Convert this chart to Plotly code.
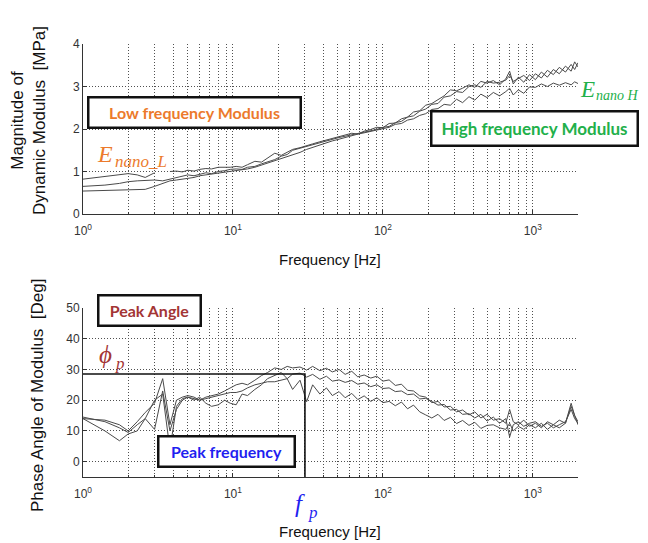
import math
import plotly.graph_objects as go

# ---------------- data ----------------
freq = [1, 1.4, 1.75, 2, 2.3, 2.6, 3, 3.4, 3.8, 4.2,
        4.6, 5, 5.5, 6, 6.6, 7.2, 8, 8.8, 9.6, 10.5,
        11.5, 12.5, 14, 15.5, 17, 19, 21, 23, 25, 28,
        31, 34, 38, 42, 46, 51, 56, 62, 68, 75,
        83, 91, 100, 110, 121, 133, 146, 160, 176, 193,
        212, 233, 256, 282, 310, 340, 375, 410, 450, 495,
        545, 600, 660, 700, 740, 800, 870, 950, 1040, 1140,
        1250, 1370, 1500, 1650, 1800, 1900, 2000]

mod_1 = [0.82, 0.88, 0.93, 0.95, 0.92, 0.86, 0.97, None, 1.00, 1.01,
         0.99, 1.03, 1.01, 1.05, 1.07, 1.06, 1.10, 1.10, 1.10, 1.12,
         1.10, 1.16, 1.24, 1.22, 1.32, 1.43, 1.38, 1.46, 1.52, 1.56,
         1.60, 1.65, 1.70, 1.74, 1.79, 1.82, 1.86, 1.90, 1.88, 1.95,
         1.99, 2.04, 2.03, 2.13, 2.14, 2.24, 2.28, 2.40, 2.43, 2.56,
         2.60, 2.70, 2.78, 2.92, 2.90, 2.96, 3.04, 2.98, 3.12, 3.08,
         3.14, 3.04, 3.18, 3.36, 3.06, 3.22, 3.10, 3.28, 3.16, 3.34,
         3.22, 3.40, 3.30, 3.48, 3.36, 3.58, 3.46]
mod_2 = [0.65, 0.68, 0.72, 0.76, 0.78, 0.79, 0.80, 0.78, 0.82, 0.86,
         0.90, 0.92, 0.90, 0.94, 0.97, 0.95, 1.00, 1.02, 1.05, 1.06,
         1.05, 1.10, 1.12, 1.18, 1.22, 1.28, 1.36, 1.40, 1.50, 1.55,
         1.58, 1.62, 1.68, 1.72, 1.76, 1.80, 1.83, 1.86, 1.90, 1.92,
         1.96, 1.99, 2.04, 2.06, 2.15, 2.18, 2.28, 2.31, 2.42, 2.47,
         2.58, 2.60, 2.75, 2.78, 2.88, 2.86, 3.00, 3.04, 2.98, 3.12,
         3.08, 3.10, 3.15, 3.26, 3.12, 3.18, 3.26, 3.14, 3.30, 3.20,
         3.38, 3.28, 3.45, 3.34, 3.52, 3.40, 3.56]
mod_3 = [0.54, 0.56, 0.57, 0.58, 0.59, 0.58, 0.65, 0.72, 0.78, 0.80,
         0.82, 0.84, 0.86, 0.90, 0.92, 0.94, 0.96, 0.98, 1.00, 1.02,
         1.04, 1.06, 1.10, 1.15, 1.20, 1.25, 1.30, 1.34, 1.38, 1.45,
         1.52, 1.57, 1.62, 1.68, 1.72, 1.76, 1.80, 1.85, 1.88, 1.91,
         1.94, 1.97, 2.01, 2.04, 2.11, 2.13, 2.21, 2.24, 2.32, 2.36,
         2.46, 2.48, 2.58, 2.56, 2.70, 2.62, 2.76, 2.68, 2.82, 2.74,
         2.86, 2.78, 2.88, 2.96, 2.80, 2.92, 2.84, 2.99, 2.98, 3.06,
         3.00, 3.08, 3.03, 3.09, 3.04, 3.11, 3.07]

phase_1 = [14, 13.5, 12, 10, 13, 16, 19, 27, 12, 20,
           21, 21.5, 21, 20, 21, 21.5, 22, 23, 24, 25,
           25.5, 25, 26.5, 28, 29, 30.5, 30, 31, 30.5, 30.8,
           29.8, 31, 29.6, 30.4, 29.2, 30, 28.4, 29.4, 27.6, 28.2,
           27.2, 27.8, 26.2, 26.6, 24.8, 25.2, 23.2, 23, 21.4, 21,
           19.2, 19.6, 17.8, 18, 16.2, 16.8, 15.2, 16.2, 14.2, 15.4,
           13.5, 14, 12.5, 17, 13, 12, 13.5, 11.5, 12.5, 11,
           13, 12, 13.5, 12.5, 19, 15, 13]
phase_2 = [14.5, 13, 11, 9.5, 12, 14, 10.5, 23, 10, 17,
           20, 21, 20.5, 20, 20.5, 21, 21.5, 22, 22.5, 22.5,
           23, 24, 25, 25.5, 26, 26, 26.5, 27, 28.5, 28.8,
           27.5, 28.4, 26.8, 27.8, 26.2, 26.6, 25.8, 26.4, 25.2, 25.6,
           24.4, 25, 23.8, 24, 22.8, 23, 21.8, 22, 20.4, 20.6,
           19.6, 18.4, 18.6, 16.8, 17, 15.4, 15.6, 14.2, 15.4, 13.2,
           14.5, 12.5, 14, 8, 12, 13, 11.5, 12.5, 13, 11.5,
           12.5, 11, 12, 13, 17, 14, 12.5]
phase_3 = [14, 10, 6.8, 9, 10, 14, 20, 22, 4, 18,
           20.5, 21, 20, 21, 19, 18, 18.5, 20, 19, 18.5,
           22, 21.5, 23.5, 25, 27, 28, 29, 27, 23.5, 26.5,
           19.5, 25, 22, 24, 21.5, 22.8, 20.8, 22.2, 20.2, 21.4,
           19.6, 20.8, 19.2, 19.6, 18.2, 19.4, 17.2, 18.4, 16.2, 15.2,
           14.2, 15.4, 13.4, 14.4, 12.4, 13.4, 11.8, 12.8, 10.8, 11.8,
           12, 11, 10.5, 12.5, 10, 11.5, 10.5, 12, 11, 12.5,
           10.5, 12, 11, 12.5, 18, 15, 12]

peak_freq = 30.2     # f_p [Hz]
peak_angle = 28.5    # phi_p [deg]
freq_min, freq_max = 1, 2000

major_ticks = [1, 10, 100, 1000]
major_text = ["10<sup>0</sup>", "10<sup>1</sup>", "10<sup>2</sup>", "10<sup>3</sup>"]
minor_ticks = [m * 10 ** d for d in range(0, 4) for m in range(2, 10) if m * 10 ** d <= freq_max]

# ---------------- layout helpers ----------------
# the page body adds an 8px offset; the figure is sized so the window matches
OFF = 8
W, H = 648 - OFF, 543 - OFF
PL, PR, PT, PB = 83, 578, 44, 477          # plot area edges in window pixels
ML, MR, MT, MB = PL - OFF, W - (PR - OFF), PT - OFF, H - (PB - OFF)
PW, PH = PR - PL, PB - PT


def px(x):
    return (x - PL) / PW


def py(y):
    return (PB - y) / PH


LINE = "#4a4a4a"
fig = go.Figure()
for s in (mod_1, mod_2, mod_3):
    fig.add_trace(go.Scatter(x=freq, y=s, mode="lines", line=dict(color=LINE, width=1),
                             xaxis="x", yaxis="y", showlegend=False, connectgaps=False))
for s in (phase_1, phase_2, phase_3):
    fig.add_trace(go.Scatter(x=freq, y=s, mode="lines", line=dict(color=LINE, width=1),
                             xaxis="x2", yaxis="y2", showlegend=False))
fig.add_trace(go.Scatter(x=[freq_min, peak_freq, peak_freq], y=[peak_angle, peak_angle, -5],
                         mode="lines", line=dict(color="#111111", width=1.6),
                         xaxis="x2", yaxis="y2", showlegend=False))

GRIDC = "#505050"
DOT = "1px,2px"
grid = dict(showgrid=True, gridcolor=GRIDC, griddash=DOT, gridwidth=1)
xcommon = dict(type="log", range=[0, math.log10(freq_max)], tickmode="array",
               tickvals=major_ticks, ticktext=major_text, ticks="inside", ticklen=4,
               tickcolor="#333", showline=True, linecolor="#333", linewidth=1,
               tickfont=dict(family="Liberation Sans", size=12, color="#333"),
               ticklabelstandoff=6, zeroline=False,
               minor=dict(tickmode="array", tickvals=minor_ticks, showgrid=True,
                          gridcolor=GRIDC, griddash=DOT, gridwidth=1,
                          ticks="inside", ticklen=2, tickcolor="#333"),
               **grid)
ycommon = dict(ticks="inside", ticklen=4, tickcolor="#333", showline=True, linecolor="#333",
               linewidth=1, zeroline=False,
               tickfont=dict(family="Liberation Sans", size=12, color="#333"), **grid)

top_lo = py(214)
bot_hi = py(308)
fig.update_layout(
    width=W, height=H, margin=dict(l=ML, r=MR, t=MT, b=MB),
    paper_bgcolor="white", plot_bgcolor="white",
    xaxis=dict(domain=[0, 1], anchor="y", **xcommon),
    yaxis=dict(domain=[top_lo, 1], anchor="x", range=[0, 4], tickvals=[0, 1, 2, 3, 4], **ycommon),
    xaxis2=dict(domain=[0, 1], anchor="y2", **xcommon),
    yaxis2=dict(domain=[0, bot_hi], anchor="x2", range=[-5, 50],
                tickvals=[0, 10, 20, 30, 40, 50], **ycommon),
)

anns = []
sans = "Liberation Sans"
anns.append(dict(x=px(28), y=py(121), text="Magnitude of<br>Dynamic Modulus  [MPa]", textangle=-90,
                 font=dict(family=sans, size=17, color="#111")))
anns.append(dict(x=px(37), y=py(396), text="Phase Angle of Modulus  [Deg]", textangle=-90,
                 font=dict(family=sans, size=17, color="#111")))
anns.append(dict(x=px(330), y=py(260), text="Frequency [Hz]", font=dict(family=sans, size=15, color="#111")))
anns.append(dict(x=px(330), y=py(531), text="Frequency [Hz]", font=dict(family=sans, size=15, color="#111")))


def box(cx, cy, w, h, text, color, size=16):
    return dict(x=px(cx), y=py(cy), text="<b>" + text + "</b>", width=w, height=h,
                font=dict(family="Lato", size=size, color=color), bordercolor="#111",
                borderwidth=2.5, borderpad=0, bgcolor="white", align="center", valign="middle")


ORANGE, GREEN, RED, BLUE = "#EC7A2C", "#22B04A", "#A33535", "#1F1FF0"
anns.append(box(194.5, 112, 210, 28, "Low frequency Modulus", ORANGE))
anns.append(box(534.5, 128.5, 204, 32, "High frequency Modulus", GREEN, 17))
anns.append(box(149.5, 310, 100, 28, "Peak Angle", RED))
anns.append(box(226.5, 451, 134, 28, "Peak frequency", BLUE))

serif = "Liberation Serif"


def sym(x, y, text, color, size, anchor="center"):
    return dict(x=px(x), y=py(y), text="<i>" + text + "</i>", xanchor=anchor,
                font=dict(family=serif, size=size, color=color))


anns.append(sym(105, 154, "E", ORANGE, 24))
anns.append(sym(113, 161, "nano_L", ORANGE, 17, "left"))
anns.append(sym(587, 89, "E", GREEN, 23))
anns.append(sym(594, 95, "nano H", GREEN, 14, "left"))
anns.append(sym(105, 354, "ϕ", RED, 25))
anns.append(sym(113, 363, "p", RED, 17, "left"))
anns.append(sym(300, 503, "f", BLUE, 25))
anns.append(sym(306, 512, "p", BLUE, 17, "left"))

for a in anns:
    a.setdefault("xref", "paper")
    a.setdefault("yref", "paper")
    a.setdefault("showarrow", False)
    a.setdefault("xanchor", "center")
    a.setdefault("yanchor", "middle")
fig.update_layout(annotations=anns)

fig.write_html("out.html")
